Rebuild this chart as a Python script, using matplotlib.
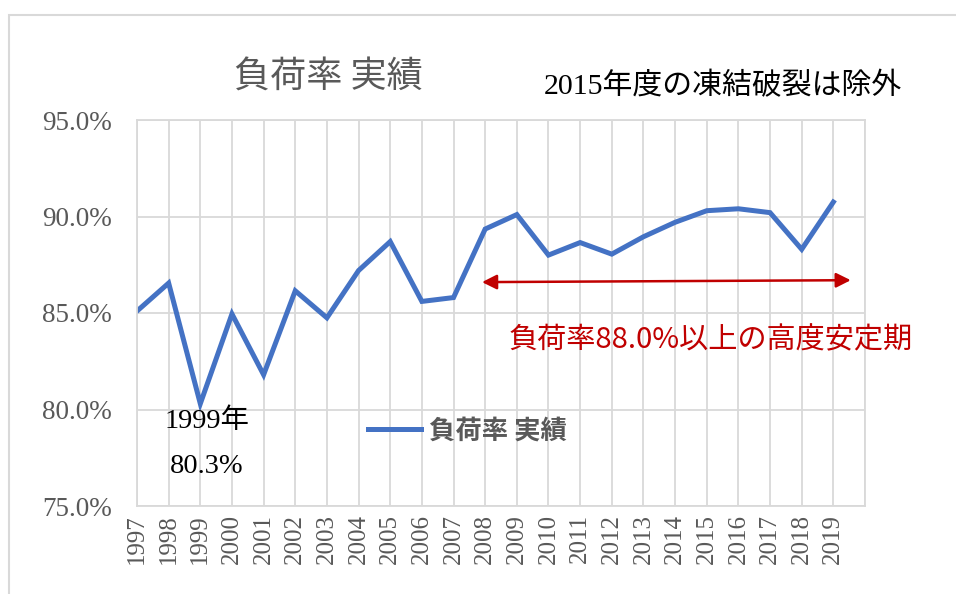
import numpy as np
import matplotlib
matplotlib.use("Agg")
import matplotlib.pyplot as plt
from matplotlib.patches import Rectangle

# 負荷率 実績 (%)
years = list(range(1997, 2020))
load_factor = [85.1, 86.55, 80.3, 84.95, 81.8, 86.15, 84.75, 87.2, 88.7, 85.6, 85.8,
               89.35, 90.1, 88.0, 88.65, 88.05, 88.95, 89.7, 90.3, 90.4, 90.2, 88.3, 90.75]
y_ticks = [75, 80, 85, 90, 95]

serif = ['Liberation Serif', 'Noto Sans CJK JP']
cjk = ['Noto Sans CJK JP', 'DejaVu Sans']
grey = '#595959'
grid_c = '#D9D9D9'

fig = plt.figure(figsize=(9.56, 5.94), dpi=100)
W, H = 956, 594

# chart border (cut off right and bottom)
fig.patches.append(Rectangle((9 / W, -0.1), 1.2, (H - 15) / H + 0.1, transform=fig.transFigure,
                             fill=False, edgecolor=grid_c, linewidth=1.5))

ax = fig.add_axes([137 / W, (H - 506) / H, (865 - 137) / W, (506 - 120) / H])
ax.plot(years, load_factor, color='#4472C4', linewidth=3.6, solid_joinstyle='miter',
        label='負荷率 実績')

ax.set_xlim(1997, 2020)
ax.set_ylim(75, 95)
ax.set_xticks(range(1997, 2021))
ax.set_xticklabels([str(y) for y in years] + [''], rotation=90, family=serif,
                   fontsize=18, color=grey)
ax.set_yticks(y_ticks)
ax.set_yticklabels([f'{v:.1f}%' for v in y_ticks], family=serif, fontsize=19.5, color=grey)
ax.tick_params(axis='y', length=0, pad=18)
ax.tick_params(axis='x', length=0, pad=6)
ax.grid(True, color=grid_c, linewidth=1.3)
for s in ax.spines.values():
    s.set_color(grid_c)
    s.set_linewidth(1.3)

# 1999 minimum label
ax.text(1999.2, 79.4, '1999年', family=serif, fontsize=20.5, ha='center', va='center')
ax.text(1999.2, 77.05, '80.3%', family=serif, fontsize=20.5, ha='center', va='center')

# stable period arrow
ax.annotate('', xy=(2019.55, 86.7), xytext=(2007.9, 86.6),
            arrowprops=dict(arrowstyle='<|-|>', color='#C00000', lw=1.8,
                            mutation_scale=22, shrinkA=0, shrinkB=0))
ax.text(2008.75, 83.6, '負荷率88.0%以上の高度安定期', family=cjk, fontsize=21,
        color='#C00000', ha='left', va='center')

leg = ax.legend(loc='center left', bbox_to_anchor=(0.285, 0.195), frameon=False,
                prop={'family': cjk, 'size': 19, 'weight': 'bold'}, handlelength=2.0,
                handletextpad=0.3)
for t in leg.get_texts():
    t.set_color(grey)

fig.text(328 / W, 1 - 78 / H, '負荷率 実績', family=cjk, fontsize=26, color=grey,
         ha='center', va='center')
fig.text(723 / W, 1 - 86 / H, '2015年度の凍結破裂は除外', family=serif, fontsize=21.5,
         color='black', ha='center', va='center')

fig.savefig('out.png', dpi=100)
